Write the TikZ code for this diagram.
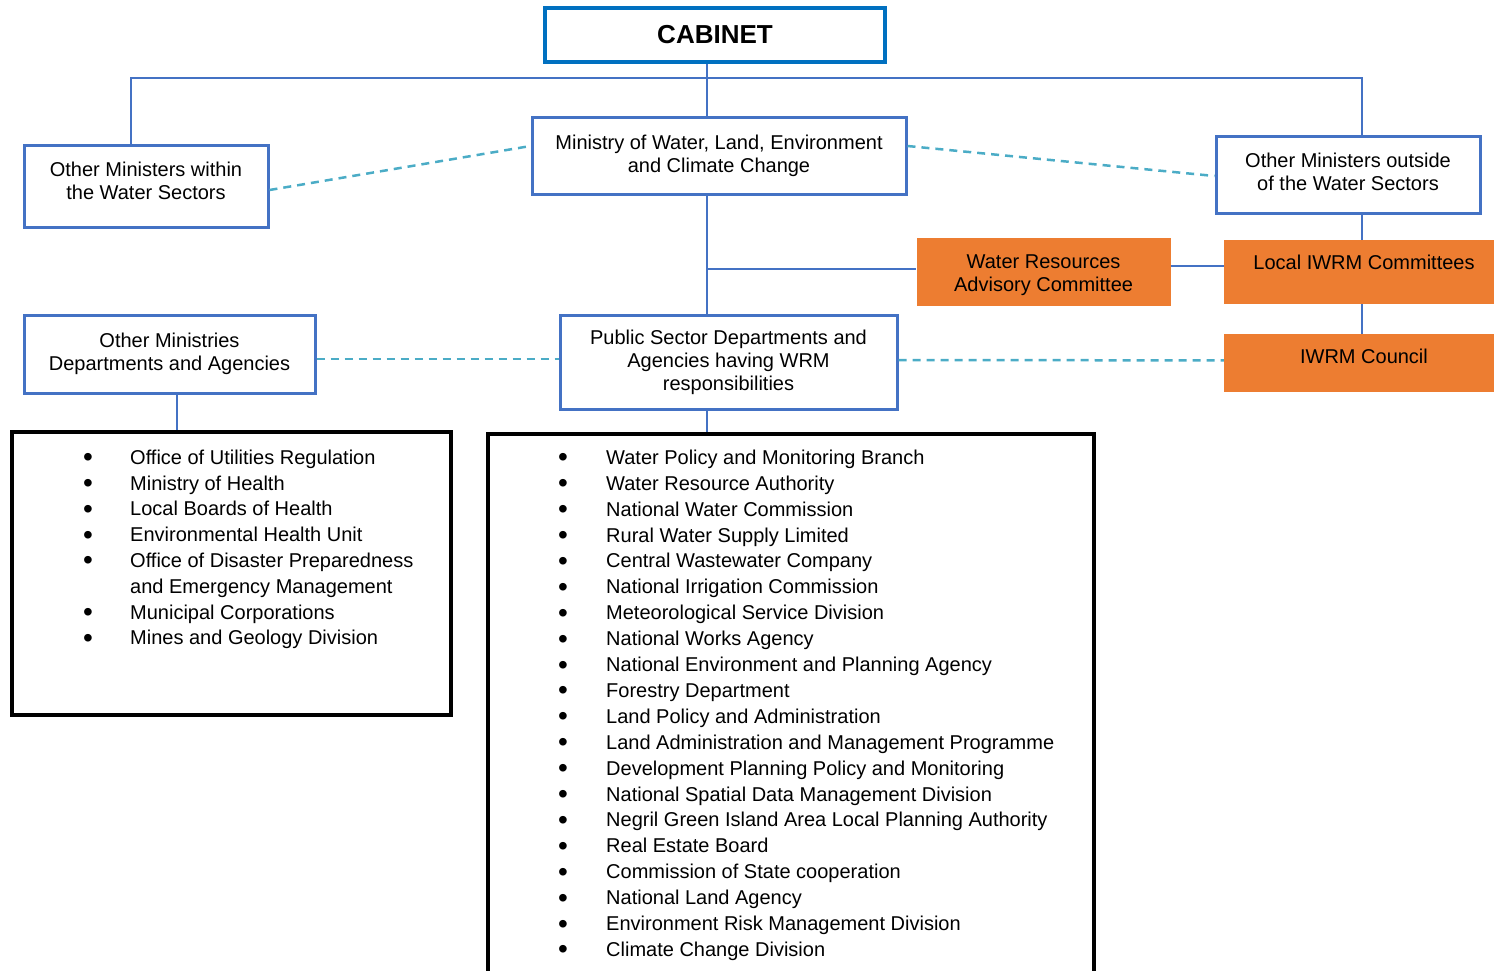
\documentclass[tikz,border=0pt]{standalone}
\usepackage{fontspec}
\setmainfont{Liberation Sans}
\usetikzlibrary{positioning}
\definecolor{cabblue}{HTML}{0070C0}
\definecolor{boxblue}{HTML}{4472C4}
\definecolor{dashcyan}{HTML}{4BACC6}
\definecolor{iwrmorange}{HTML}{ED7D31}
\newcommand{\bul}{\raisebox{-2.5pt}{\fontsize{28}{25.8}\selectfont\textbullet}}
\tikzstyle{cabinetbox} = [rectangle, draw=cabblue, line width=4pt, minimum width=340pt, minimum height=54pt, text centered, font=\fontsize{26}{30}\selectfont\bfseries]
\tikzstyle{bluebox} = [rectangle, draw=boxblue, line width=3pt, align=center, font=\fontsize{20}{23}\selectfont]
\tikzstyle{orangebox} = [rectangle, fill=iwrmorange, align=center, font=\fontsize{20}{23}\selectfont]
\tikzstyle{listbox} = [rectangle, draw=black, line width=4pt]
\tikzstyle{listtext} = [inner sep=0pt, font=\fontsize{20}{25.8}\selectfont]
\tikzstyle{conn} = [draw=boxblue, line width=2pt]
\tikzstyle{dashline} = [draw=dashcyan, line width=2.5pt, dash pattern=on 8pt off 6pt]

\begin{document}
\begin{tikzpicture}[x=1pt, y=-1pt]
\useasboundingbox (0,0) rectangle (1494,970);
\node (cabinet) [cabinetbox] at (715,35) {CABINET};
\node (ministry) [bluebox, minimum width=374pt, minimum height=77pt] at (719,155.5) {Ministry of Water, Land, Environment\\and Climate Change};
\node (within) [bluebox, minimum width=244pt, minimum height=82pt, text height=37.6pt, text depth=10pt] at (146,186) {Other Ministers within\\the Water Sectors};
\node (outside) [bluebox, minimum width=264pt, minimum height=77pt, text height=37.6pt, text depth=6pt] at (1348,174.5) {Other Ministers outside\\of the Water Sectors};
\node (local) [orangebox, minimum width=280pt, minimum height=64pt, text height=15pt, text depth=21pt] at (1364,272) {Local IWRM Committees};
\node (wrac) [orangebox, minimum width=254pt, minimum height=68pt, text height=41.6pt, text depth=2.2pt, left=53pt of local] {Water Resources\\Advisory Committee};
\node (council) [orangebox, minimum width=280pt, minimum height=58pt, text height=15pt, text depth=14pt, below=30pt of local] {IWRM Council};
\node (public) [bluebox, minimum width=337pt, minimum height=94pt] at (728.5,362) {Public Sector Departments and\\Agencies having WRM\\responsibilities};
\node (otherdept) [bluebox, minimum width=291pt, minimum height=78pt] at (169.5,354) {Other Ministries\\Departments and Agencies};
\node (leftlist) [listbox, minimum width=439pt, minimum height=283pt] at (231.5,573.5) {};
\node (rightlist) [listbox, minimum width=606pt, minimum height=548pt, anchor=north] at (791,432) {};
\node (leftitems) [listtext, anchor=north west] at (83,446) {%
\begin{tabular}{@{}p{47pt}@{}l@{}}
\bul & Office of Utilities Regulation\\
\bul & Ministry of Health\\
\bul & Local Boards of Health\\
\bul & Environmental Health Unit\\
\bul & Office of Disaster Preparedness\\
 & and Emergency Management\\
\bul & Municipal Corporations\\
\bul & Mines and Geology Division
\end{tabular}};
\node (rightitems) [listtext, anchor=north west, font=\fontsize{20}{25.9}\selectfont] at (558,446) {%
\begin{tabular}{@{}p{48pt}@{}l@{}}
\bul & Water Policy and Monitoring Branch\\
\bul & Water Resource Authority\\
\bul & National Water Commission\\
\bul & Rural Water Supply Limited\\
\bul & Central Wastewater Company\\
\bul & National Irrigation Commission\\
\bul & Meteorological Service Division\\
\bul & National Works Agency\\
\bul & National Environment and Planning Agency\\
\bul & Forestry Department\\
\bul & Land Policy and Administration\\
\bul & Land Administration and Management Programme\\
\bul & Development Planning Policy and Monitoring\\
\bul & National Spatial Data Management Division\\
\bul & Negril Green Island Area Local Planning Authority\\
\bul & Real Estate Board\\
\bul & Commission of State cooperation\\
\bul & National Land Agency\\
\bul & Environment Risk Management Division\\
\bul & Climate Change Division
\end{tabular}};
% solid links
\coordinate (busL) at (131,78);
\coordinate (busM) at (707,78);
\coordinate (busR) at (1362,78);
\coordinate (tee) at (707,269);
\coordinate (dropL) at (177,0);
\draw [conn] (cabinet.south -| busM) -- (ministry.north -| busM);
\draw [conn] (within.north -| busL) -- (busL) -- (busR) -- (outside.north -| busR);
\draw [conn] (ministry.south -| tee) -- (public.north -| tee);
\draw [conn] (tee) -- (tee -| wrac.west);
\draw [conn] ([yshift=6pt]wrac.east) -- ([yshift=6pt]local.west);
\draw [conn] (outside.south -| busR) -- (local.north -| busR);
\draw [conn] (local.south -| busR) -- (council.north -| busR);
\draw [conn] (otherdept.south -| dropL) -- (leftlist.north -| dropL);
\draw [conn] (public.south -| tee) -- (rightlist.north -| tee);
% dashed links
\draw [dashline] ([yshift=-4pt]within.east) -- ([yshift=9.5pt]ministry.west);
\draw [dashline] ([yshift=9.5pt]ministry.east) -- ([yshift=-1.5pt]outside.west);
\draw [dashline] ([yshift=-5pt]otherdept.east) -- ([yshift=3pt]public.west);
\draw [dashline] ([yshift=2pt]public.east) -- ([yshift=3pt]council.west);
\end{tikzpicture}
\end{document}
